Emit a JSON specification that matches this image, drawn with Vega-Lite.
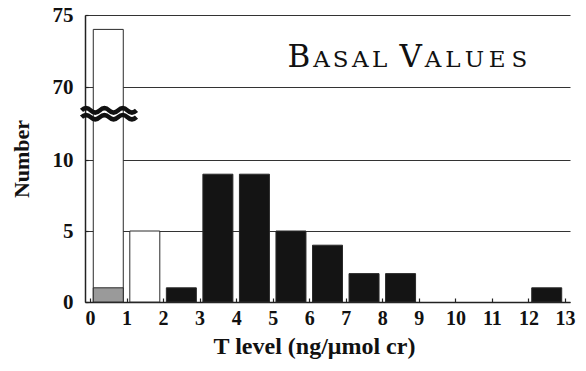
{
  "$schema": "https://vega.github.io/schema/vega-lite/v6.json",
  "width": 485,
  "height": 287,
  "autosize": {"type": "none"},
  "padding": {"left": 85, "top": 15, "right": 16, "bottom": 69},
  "background": "white",
  "config": {"view": {"stroke": null}, "font": "Liberation Serif"},
  "encoding": {
    "x": {
      "field": "T",
      "type": "quantitative",
      "scale": {"domain": [0, 13], "nice": false, "zero": false},
      "axis": {
        "values": [0, 1, 2, 3, 4, 5, 6, 7, 8, 9, 10, 11, 12, 13],
        "format": "d",
        "grid": false,
        "domainColor": "#222",
        "domainWidth": 1.5,
        "tickColor": "#222",
        "tickSize": -4,
        "tickWidth": 1.2,
        "labelFont": "Liberation Serif",
        "labelFontWeight": "bold",
        "labelFontSize": 20,
        "labelColor": "#111",
        "labelPadding": 10,
        "labelOverlap": false,
        "labelFlush": false,
        "labelBound": false,
        "title": "T level (ng/μmol cr)",
        "titleFont": "Liberation Serif",
        "titleFontWeight": "bold",
        "titleFontSize": 24,
        "titleColor": "#111",
        "titlePadding": 6,
        "titleX": 229
      }
    },
    "y": {
      "field": "count",
      "type": "quantitative",
      "stack": null,
      "scale": {"domain": [0, 10, 70, 75], "range": [287, 145, 72, 0], "nice": false, "zero": false},
      "axis": {
        "values": [0, 5, 10, 70, 75],
        "grid": true,
        "gridColor": "#333",
        "gridWidth": 1.2,
        "domainColor": "#222",
        "domainWidth": 1.5,
        "tickColor": "#222",
        "tickSize": -3,
        "tickWidth": 1.2,
        "labelFont": "Liberation Serif",
        "labelFontWeight": "bold",
        "labelFontSize": 21,
        "labelColor": "#111",
        "labelPadding": 15,
        "labelOverlap": false,
        "labelFlush": false,
        "labelBound": false,
        "title": "Number",
        "titleFont": "Liberation Serif",
        "titleFontWeight": "bold",
        "titleFontSize": 22,
        "titleColor": "#111",
        "titlePadding": 19
      }
    }
  },
  "layer": [
    {
      "data": {
        "values": [
          {"T": 0.5, "count": 74, "type": "open"},
          {"T": 0.5, "count": 1, "type": "shaded"},
          {"T": 1.5, "count": 5, "type": "open"},
          {"T": 2.5, "count": 1, "type": "solid"},
          {"T": 3.5, "count": 9, "type": "solid"},
          {"T": 4.5, "count": 9, "type": "solid"},
          {"T": 5.5, "count": 5, "type": "solid"},
          {"T": 6.5, "count": 4, "type": "solid"},
          {"T": 7.5, "count": 2, "type": "solid"},
          {"T": 8.5, "count": 2, "type": "solid"},
          {"T": 12.5, "count": 1, "type": "solid"}
        ]
      },
      "mark": {"type": "bar", "size": 30, "stroke": "#2a2a2a", "strokeWidth": 1},
      "encoding": {
        "color": {
          "field": "type",
          "type": "nominal",
          "scale": {"domain": ["open", "shaded", "solid"], "range": ["#ffffff", "#9a9a9a", "#141414"]},
          "legend": null
        }
      }
    },
    {
      "data": {"values": [{"T": 0.52, "count": 48}]},
      "mark": {
        "type": "point",
        "shape": "M-1,-0.125Q-0.833,-0.285,-0.667,-0.125T-0.333,-0.125T0,-0.125T0.333,-0.125T0.667,-0.125T1,-0.125M-1,0.125Q-0.833,-0.035,-0.667,0.125T-0.333,0.125T0,0.125T0.333,0.125T0.667,0.125T1,0.125",
        "size": 3025,
        "filled": false,
        "stroke": "#111",
        "strokeWidth": 4.5,
        "opacity": 1
      }
    },
    {
      "data": {
        "values": [
          {"T": 5.72, "count": 71.39, "letter": "B"},
          {"T": 8.78, "count": 71.39, "letter": "V"}
        ]
      },
      "mark": {"type": "text", "align": "center", "baseline": "alphabetic", "font": "DejaVu Serif", "fontSize": 31, "color": "#111"},
      "encoding": {"text": {"field": "letter"}}
    },
    {
      "data": {
        "values": [
          {"T": 6.34, "count": 71.39, "letter": "A"},
          {"T": 6.86, "count": 71.39, "letter": "S"},
          {"T": 7.4, "count": 71.39, "letter": "A"},
          {"T": 7.93, "count": 71.39, "letter": "L"},
          {"T": 9.39, "count": 71.39, "letter": "A"},
          {"T": 9.93, "count": 71.39, "letter": "L"},
          {"T": 10.52, "count": 71.39, "letter": "U"},
          {"T": 11.14, "count": 71.39, "letter": "E"},
          {"T": 11.75, "count": 71.39, "letter": "S"}
        ]
      },
      "mark": {"type": "text", "align": "center", "baseline": "alphabetic", "font": "DejaVu Serif", "fontSize": 23, "color": "#111"},
      "encoding": {"text": {"field": "letter"}}
    }
  ]
}
